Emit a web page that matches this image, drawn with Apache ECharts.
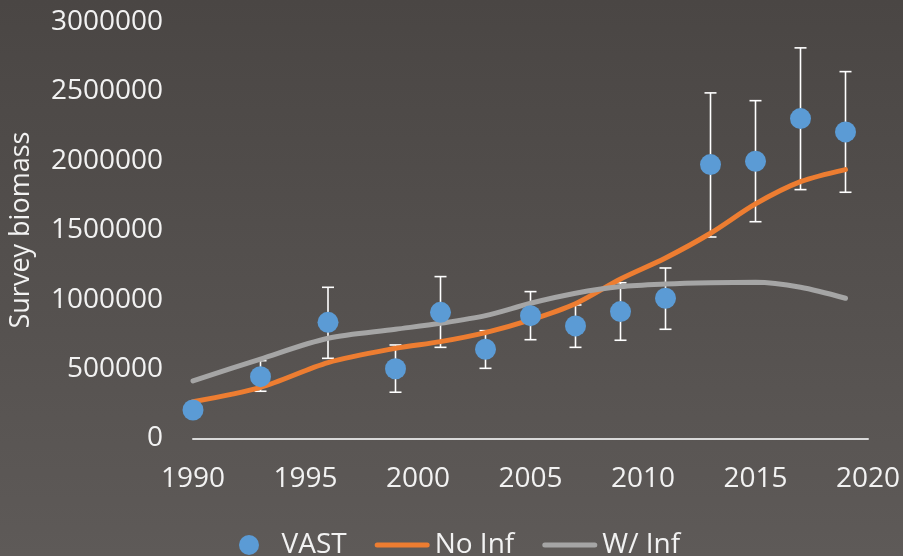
<!DOCTYPE html>
<html><head><meta charset="utf-8">
<script src="https://cdn.jsdelivr.net/npm/echarts@6/dist/echarts.min.js"></script>
<style>html,body{margin:0;padding:0;}#c{width:903px;height:556px;}</style>
</head><body><div id="c"></div>
<script>
const vastYears = [1990,1993,1996,1999,2001,2003,2005,2007,2009,2011,2013,2015,2017,2019];
const vastValues = [205000,445000,836000,502000,908000,642000,884000,810000,913000,1009000,1971000,1995000,2302000,2206000];
const vastLow = [null,340000,577000,333000,656000,505000,711000,656000,707000,786000,1450000,1560000,1791000,1772000];
const vastHigh = [null,560000,1088000,673000,1165000,776000,1057000,961000,1121000,1227000,2487000,2431000,2811000,2640000];
const lineYears = [1990,1993,1996,1999,2001,2003,2005,2007,2009,2011,2013,2015,2017,2019];
const noInf = [265000,368000,546000,649000,697000,762000,853000,970000,1148000,1299000,1477000,1688000,1848000,1935000];
const wInf = [414000,572000,721000,786000,829000,884000,973000,1045000,1093000,1112000,1121000,1124000,1088000,1009000];
const xTicks = {min:1990,max:2020,interval:5};
const yTicks = {min:0,max:3000000,interval:500000};

const FONT = '"Open Sans", sans-serif';
const TXT = '#f2f2f2';
const BLUE = '#5b9bd5', ORANGE = '#ed7d31', GRAY = '#a5a5a5';
const LINE_ICON = 'path://M2.5,0 h50 a2.5,2.5 0 0 1 0,5 h-50 a2.5,2.5 0 0 1 0,-5 z';
const chart = echarts.init(document.getElementById('c'));
const errData = [];
vastYears.forEach((y,i)=>{ if(vastLow[i]!=null) errData.push([y,vastLow[i],vastHigh[i]]); });

chart.setOption({
  backgroundColor: new echarts.graphic.LinearGradient(0,0,0,1,[{offset:0,color:'#4a4644'},{offset:1,color:'#5e5a58'}]),
  animation:false,
  grid:{left:193,right:35,top:21.6,bottom:117.5,containLabel:false,outerBoundsMode:'none'},
  xAxis:{type:'value',min:xTicks.min,max:xTicks.max,interval:xTicks.interval,
    axisLine:{lineStyle:{color:'#d9d9d9',width:2}},axisTick:{show:false},splitLine:{show:false},
    axisLabel:{color:TXT,fontSize:28,fontFamily:FONT,margin:27,formatter:v=>String(v)}},
  yAxis:{type:'value',min:yTicks.min,max:yTicks.max,interval:yTicks.interval,
    name:'Survey biomass',nameLocation:'middle',nameGap:158,nameTextStyle:{color:TXT,fontSize:27,fontFamily:FONT},
    axisLine:{show:false},axisTick:{show:false},splitLine:{show:false},
    axisLabel:{color:TXT,fontSize:28,fontFamily:FONT,margin:30,formatter:v=>String(v)}},
  legend:{bottom:-8,left:234,itemWidth:55,itemHeight:20,itemGap:28,
    textStyle:{color:TXT,fontSize:28,fontFamily:FONT},
    data:[{name:'VAST',icon:'circle',itemStyle:{color:BLUE}},
          {name:'No Inf',icon:LINE_ICON,itemStyle:{color:ORANGE}},
          {name:'W/ Inf',icon:LINE_ICON,itemStyle:{color:GRAY}}]},
  series:[
    {name:'VAST',type:'custom',z:3,data:errData,itemStyle:{color:BLUE},
      renderItem:function(params,api){
        const x=api.value(0);
        const lo=api.coord([x,api.value(1)]);
        const hi=api.coord([x,api.value(2)]);
        const c=6; const st={stroke:'#ffffff',lineWidth:1.6};
        return {type:'group',children:[
          {type:'line',shape:{x1:lo[0],y1:lo[1],x2:hi[0],y2:hi[1]},style:st},
          {type:'line',shape:{x1:lo[0]-c,y1:lo[1],x2:lo[0]+c,y2:lo[1]},style:st},
          {type:'line',shape:{x1:hi[0]-c,y1:hi[1],x2:hi[0]+c,y2:hi[1]},style:st}
        ]};
      }},
    {name:'No Inf',type:'line',z:4,smooth:0.3,symbol:'none',showSymbol:false,
      data:lineYears.map((y,i)=>[y,noInf[i]]),
      lineStyle:{color:ORANGE,width:5,cap:'round'},itemStyle:{color:ORANGE}},
    {name:'W/ Inf',type:'line',z:4,smooth:0.3,symbol:'none',showSymbol:false,
      data:lineYears.map((y,i)=>[y,wInf[i]]),
      lineStyle:{color:GRAY,width:5,cap:'round'},itemStyle:{color:GRAY}},
    {name:'VAST',type:'scatter',z:5,symbol:'circle',symbolSize:21,
      data:vastYears.map((y,i)=>[y,vastValues[i]]),
      itemStyle:{color:BLUE,opacity:1}}
  ]
});
</script></body></html>
